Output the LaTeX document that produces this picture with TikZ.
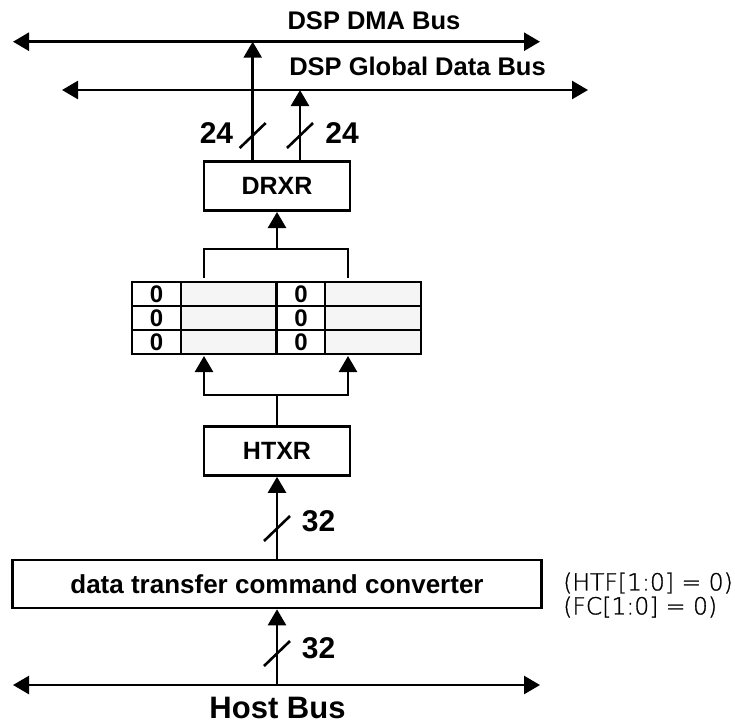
\documentclass[tikz,border=0pt]{standalone}
\usepackage{fontspec}
\setmainfont{Liberation Sans}
\newfontfamily\notefont[FakeBold=1.2]{DejaVu Sans ExtraLight}
\usetikzlibrary{arrows.meta}

\begin{document}
\begin{tikzpicture}[x=1pt, y=-1pt,
  wire/.style = {line width=2.6pt},
  arr/.style = {wire, -{Triangle[length=16pt, width=18pt]}},
  bus/.style = {wire, {Triangle[length=16pt, width=18pt]}-{Triangle[length=16pt, width=18pt]}},
  reg/.style = {draw, line width=2.6pt, inner sep=0pt, minimum width=146pt, minimum height=49pt, font=\fontsize{25}{30}\selectfont\bfseries},
  zcell/.style = {draw, line width=2.6pt, inner sep=0pt, minimum width=49pt, minimum height=24pt, font=\fontsize{24}{24}\selectfont\bfseries},
  gcell/.style = {draw, fill=gray!8, line width=2.6pt, inner sep=0pt, minimum width=96pt, minimum height=24pt},
  lbl/.style = {inner sep=0pt, font=\fontsize{25.5}{30}\selectfont\bfseries},
  num/.style = {inner sep=0pt, font=\fontsize{30}{34}\selectfont\bfseries},
  note/.style = {anchor=west, inner sep=0pt, font=\notefont\fontsize{23.5}{24}\selectfont}]

\useasboundingbox (0, 0) rectangle (735, 724);

\coordinate (dmaW) at (13, 41.7);
\coordinate (dmaE) at (540, 41.7);
\coordinate (gdbW) at (62, 90);
\coordinate (gdbE) at (588, 90);
\coordinate (hostW) at (13, 685);
\coordinate (hostE) at (540, 685);

\coordinate (dmaTap) at (252.7, 41.7);
\coordinate (gdbTap) at (300, 90);
\coordinate (hostTap) at (277, 685);

\node[lbl] (dmaL) at (374, 21) {DSP DMA Bus};
\node[lbl] (gdbL) at (417.5, 66.5) {DSP Global Data Bus};
\node[num, font=\fontsize{31}{34}\selectfont\bfseries] (hostL) at (277.5, 708) {Host Bus};

\draw[bus] (dmaW) -- (dmaE);
\draw[bus] (gdbW) -- (gdbE);
\draw[bus] (hostW) -- (hostE);

\node[reg] (drxr) at (277, 186.2) {DRXR};
\node[reg] (htxr) at (277, 451) {HTXR};
\node[reg, minimum width=529pt, minimum height=48pt, font=\fontsize{26}{30}\selectfont\bfseries] (conv) at (277, 584) {data transfer command converter};

\draw[arr] (drxr.north -| dmaTap) -- (dmaTap);
\draw[arr] (drxr.north -| gdbTap) -- (gdbTap);

% register array
\node[zcell] (z11) at (156.5, 294) {0};
\node[gcell] (g11) at (229, 294) {};
\node[zcell] (z12) at (301, 294) {0};
\node[gcell] (g12) at (373, 294) {};
\node[zcell] (z21) at (156.5, 318) {0};
\node[gcell] (g21) at (229, 318) {};
\node[zcell] (z22) at (301, 318) {0};
\node[gcell] (g22) at (373, 318) {};
\node[zcell] (z31) at (156.5, 342) {0};
\node[gcell] (g31) at (229, 342) {};
\node[zcell] (z32) at (301, 342) {0};
\node[gcell] (g32) at (373, 342) {};

\coordinate (brW) at (204, 278);
\coordinate (brE) at (348, 278);
\coordinate (join1) at (277, 249);
\draw[wire] (brW) -- ++(0, -29) -| (brE);
\draw[arr] (join1) -- (drxr.south);

\coordinate (tapW) at (204, 356);
\coordinate (tapE) at (348, 356);
\coordinate (join2) at (277, 395);
\draw[wire] (htxr.north) -- (join2);
\draw[arr] (join2) -| (tapW);
\draw[arr] (join2) -| (tapE);

\draw[arr] (conv.north) -- (htxr.south);
\draw[arr] (hostTap) -- (conv.south);

% bus widths
\coordinate (w1) at (252.7, 135.5);
\coordinate (w2) at (300, 135.5);
\coordinate (w3) at (277, 528.5);
\coordinate (w4) at (277, 653.5);
\draw[wire] (w1) ++(-13, 12.5) -- ++(26, -25);
\draw[wire] (w2) ++(-13, 12.5) -- ++(26, -25);
\draw[wire] (w3) ++(-13, 12.5) -- ++(26, -25);
\draw[wire] (w4) ++(-13, 12.5) -- ++(26, -25);

\node[num] (n1) at (216.5, 133.5) {24};
\node[num] (n2) at (342, 133.5) {24};
\node[num] (n3) at (318.5, 521) {32};
\node[num] (n4) at (318.5, 648.5) {32};

\node[note] (htf) at (563, 583) {(HTF[1:0] = 0)};
\node[note] (fc) at (563, 607) {(FC[1:0] = 0)};
\end{tikzpicture}
\end{document}
